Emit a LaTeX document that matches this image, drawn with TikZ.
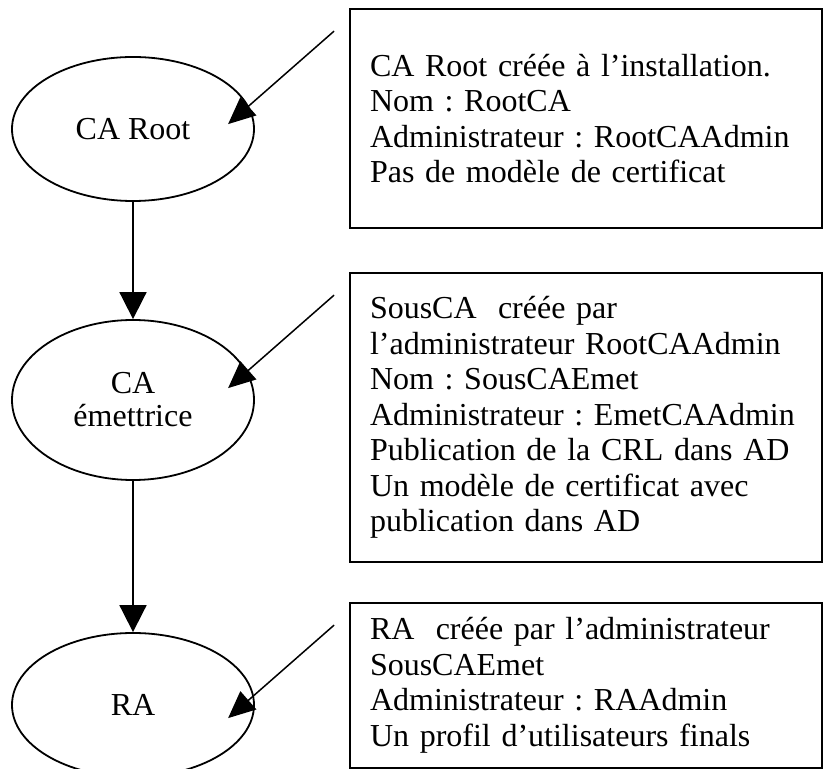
\documentclass[tikz,border=0pt]{standalone}
\usepackage{fontspec}
\setmainfont{Liberation Serif}
\usetikzlibrary{shapes.geometric,arrows.meta}
\frenchspacing

\begin{document}
\begin{tikzpicture}
		[x=0.5pt, y=-0.5pt,
		ca node/.style={ellipse, draw, line width=0.9pt, minimum width=121pt, minimum height=72pt, align=center, font=\fontsize{16}{16.5}\selectfont},
		info box/.style={rectangle, draw, line width=0.9pt, text width=216pt, inner xsep=10pt, align=left, font=\fontsize{16}{17.75}\selectfont},
		down arrow/.style={-{Triangle[length=13.5pt, width=13.5pt]}, line width=0.9pt},
		pointer/.style={-{Triangle[length=13.5pt, width=12pt]}, line width=0.75pt}]
		\useasboundingbox (0,0) rectangle (824,769);
			% the three authorities
			\node[ca node] (root) at (133,129) {CA Root};
			\node[ca node, minimum height=80pt] (emet) at (133,400) {CA\\émettrice};
			\node[ca node] (ra) at (133,705) {RA};

			% their descriptions
			\node[info box, minimum height=109.5pt] (root-info) at (586,118.5) {CA Root créée à l’installation.\\Nom : RootCA\\Administrateur : RootCAAdmin\\Pas de modèle de certificat};
			\node[info box, minimum height=144.5pt] (emet-info) at (586,417.5) {SousCA\ \ créée par\\l’administrateur RootCAAdmin\\Nom : SousCAEmet\\Administrateur : EmetCAAdmin\\Publication de la CRL dans AD\\Un modèle de certificat avec\\publication dans AD};
			\node[info box, minimum height=82.5pt] (ra-info) at (586,685.5) {RA\ \ créée par l’administrateur\\SousCAEmet\\Administrateur : RAAdmin\\Un profil d’utilisateurs finals};

			\path (root) edge[down arrow] (emet);
			\path (emet) edge[down arrow] (ra);
			\foreach \n in {root,emet,ra}{
				\coordinate (\n-from) at ([shift={(-15,23)}]\n-info.north west);
				\coordinate (\n-tip) at ([shift={(-106,93)}]\n-from);
				\path (\n-from) edge[pointer] (\n-tip);
			}
		\end{tikzpicture}
\end{document}
